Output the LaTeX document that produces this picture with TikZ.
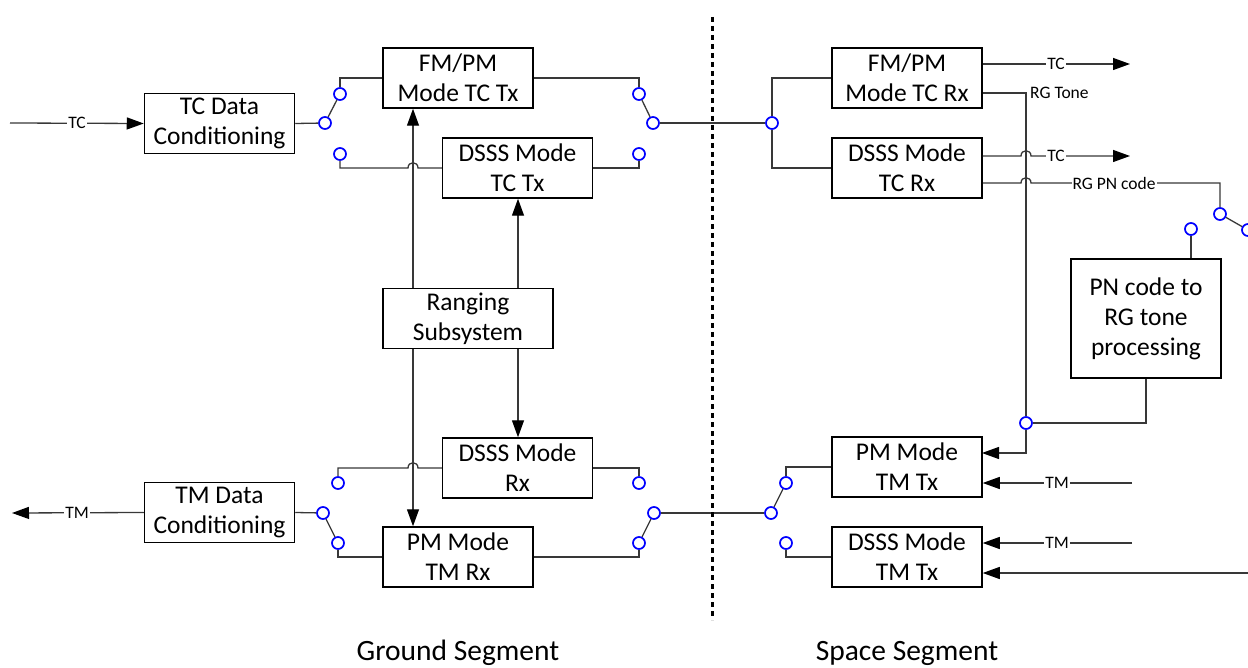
\documentclass[tikz,border=0pt]{standalone}
\usepackage{fontspec}
\setmainfont{Carlito}
\usetikzlibrary{arrows.meta}
\begin{document}
\begin{tikzpicture}[x=1pt,y=-1pt,
 box/.style={draw=black,line width=1.5pt,minimum width=150pt,minimum height=60pt,align=center,inner sep=0pt,font=\fontsize{25.5}{30}\selectfont},
 wire/.style={draw=black!78,line width=1.3pt},
 arr/.style={wire,-{Triangle[length=17pt,width=12pt,black]}},
 sw/.style={circle,draw=blue,line width=1.7pt,fill=white,minimum size=12pt,inner sep=0pt},
 lbl/.style={fill=white,inner sep=1pt,font=\fontsize{17.5}{19}\selectfont},
 seg/.style={font=\fontsize{29.5}{34}\selectfont,anchor=base}]
\useasboundingbox (0,0) rectangle (1248,668);

% boxes
\node[box] (tcd) at (219.5,123.5) {TC Data\\Conditioning};
\node[box] (fmtx) at (458,78) {FM/PM\\Mode TC Tx};
\node[box] (dsstx) at (517.5,168) {DSSS Mode\\TC Tx};
\node[box,minimum width=170pt] (rng) at (468,318.5) {Ranging\\Subsystem};
\node[box] (dssrx) at (517.5,468) {DSSS Mode\\Rx};
\node[box] (tmd) at (219.5,512.5) {TM Data\\Conditioning};
\node[box] (pmrx) at (458,557) {PM Mode\\TM Rx};
\node[box] (fmrx) at (907,78) {FM/PM\\Mode TC Rx};
\node[box] (tcrx) at (907,168) {DSSS Mode\\TC Rx};
\node[box,minimum height=119pt] (pn) at (1146,318.5) {PN code to\\RG tone\\processing};
\node[box] (pmtx) at (907,467) {PM Mode\\TM Tx};
\node[box] (dtmtx) at (907,557) {DSSS Mode\\TM Tx};

% switch contacts
\node[sw] (sTLc) at (325,123) {};
\node[sw] (sTLa) at (340,94) {};
\node[sw] (sTLb) at (340,154) {};
\node[sw] (sTMa) at (639,94) {};
\node[sw] (sTMc) at (653,123) {};
\node[sw] (sTMb) at (639,154) {};
\node[sw] (jR) at (772,123) {};
\node[sw] (sBLa) at (338,483) {};
\node[sw] (sBLc) at (323,513) {};
\node[sw] (sBLb) at (338,543) {};
\node[sw] (sBMa) at (639,483) {};
\node[sw] (sBMc) at (654,513) {};
\node[sw] (sBMb) at (639,543) {};
\node[sw] (sBRa) at (786,483) {};
\node[sw] (sBRc) at (771,513) {};
\node[sw] (sBRb) at (786,543) {};
\node[sw] (jRG) at (1026,423) {};
\node[sw] (sPNa) at (1220,214) {};
\node[sw] (sPNb) at (1191,229) {};
\node[sw] (sPNc) at (1248,230) {};

% helper coordinates
\coordinate (vL) at (413,0);
\coordinate (vR) at (518,0);
\coordinate (tcin) at (10,123);
\coordinate (tmout) at (12,513);
\coordinate (tco1) at (1130,64);
\coordinate (tco2) at (1130,156);
\coordinate (rgc) at (1026,93);
\coordinate (rgin) at (982,453);
\coordinate (pnc) at (1220,183);
\coordinate (tmi1) at (1132,483);
\coordinate (tmi2) at (1132,543);
\coordinate (tmi3) at (1250,573);
\coordinate (dtop) at (712,17);
\coordinate (dbot) at (712,620);

% ground: TC path
\draw[arr] (tcin) -- (tcd.west);
\node[lbl] (ltcin) at (77,123) {TC};
\draw[wire] (tcd.east) -- (sTLc);
\draw[wire] (sTLc) -- (sTLa);
\draw[wire] (sTLa) |- (fmtx.west);
\draw[arr] (rng.north -| vL) -- (fmtx.south -| vL);
\draw[arr] (rng.north -| vR) -- (dsstx.south -| vR);
\draw[arr] (rng.south -| vL) -- (pmrx.north -| vL);
\draw[arr] (rng.south -| vR) -- (dssrx.north -| vR);
\draw[wire] (sTLb.south) -- (340,168) -- (408,168) .. controls (408,161) and (418,161) .. (418,168) -- (dsstx.west);
\draw[wire] (sTMa) |- (fmtx.east);
\draw[wire] (sTMb) |- (dsstx.east);
\draw[wire] (sTMa) -- (sTMc);
\draw[wire] (sTMc) -- (jR);
\draw[wire] (jR) |- (fmrx.west);
\draw[wire] (jR) |- (tcrx.west);

% ground: TM path
\draw[arr] (tmd.west) -- (tmout);
\node[lbl] (ltmout) at (77,513) {TM};
\draw[wire] (tmd.east) -- (sBLc);
\draw[wire] (sBLc) -- (sBLb);
\draw[wire] (sBLa.north) -- (338,468) -- (408,468) .. controls (408,461) and (418,461) .. (418,468) -- (dssrx.west);
\draw[wire] (sBLb) |- (pmrx.west);
\draw[wire] (sBMa) |- (dssrx.east);
\draw[wire] (sBMb) |- (pmrx.east);
\draw[wire] (sBMc) -- (sBMb);
\draw[wire] (sBMc) -- (sBRc);
\draw[wire] (sBRc) -- (sBRa);
\draw[wire] (sBRa) |- (pmtx.west);
\draw[wire] (sBRb) |- (dtmtx.west);

% space: TC outputs
\draw[arr] (fmrx.east |- tco1) -- (tco1);
\node[lbl] (ltc1) at (1056,64) {TC};
\draw[wire] (fmrx.east |- rgc) -- (rgc) -- (jRG);
\node[lbl,fill=none,anchor=west] (lrg) at (1029,93) {RG Tone};
\draw[arr] (tcrx.east |- tco2) -- (1021,156) .. controls (1021,149) and (1031,149) .. (1031,156) -- (tco2);
\node[lbl] (ltc2) at (1056,156) {TC};
\draw[wire] (tcrx.east |- pnc) -- (1021,183) .. controls (1021,176) and (1031,176) .. (1031,183) -- (pnc) -- (sPNa);
\node[lbl] (lpn) at (1114,183) {RG PN code};
\draw[wire] (sPNa) -- (sPNc);
\draw[wire] (sPNb) -- (sPNb |- pn.north);
\draw[wire] (jRG) -| (pn.south);
\draw[arr] (jRG) |- (rgin);

% space: TM inputs
\draw[arr] (tmi1) -- (pmtx.east |- tmi1);
\node[lbl] (ltm1) at (1057,483) {TM};
\draw[arr] (tmi2) -- (dtmtx.east |- tmi2);
\node[lbl] (ltm2) at (1057,543) {TM};
\draw[arr] (tmi3) -- (dtmtx.east |- tmi3);

% divider
\draw[line width=3pt,dash pattern=on 5pt off 4pt] (dtop) -- (dbot);

% segment labels
\node[seg] (gs) at (458,660) {Ground Segment};
\node[seg] (ss) at (907,660) {Space Segment};
\end{tikzpicture}
\end{document}
